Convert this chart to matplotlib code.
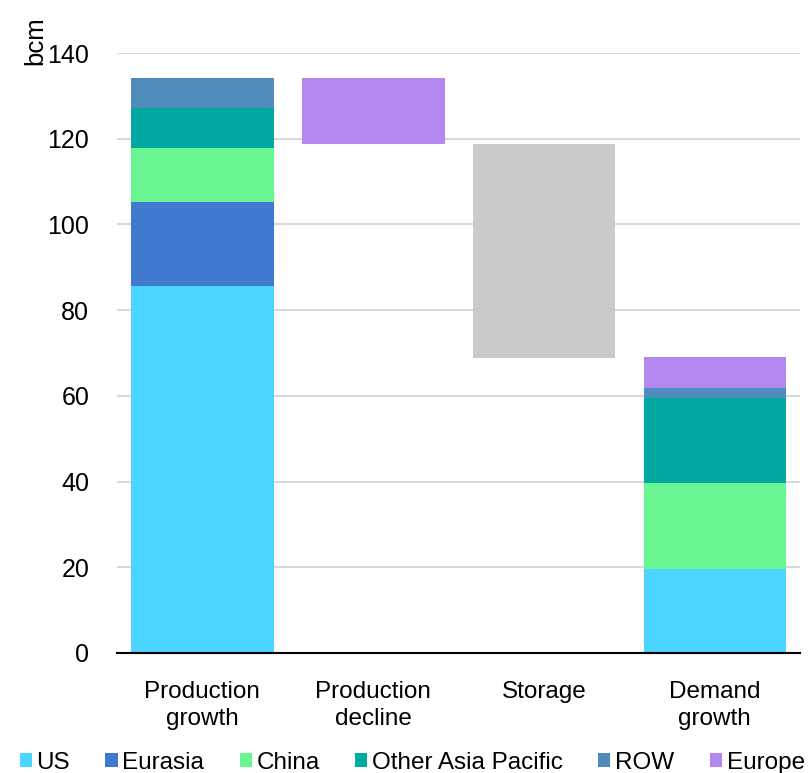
import matplotlib
matplotlib.use("Agg")
import matplotlib.pyplot as plt
import numpy as np

plt.rcParams['font.family'] = ['Liberation Sans', 'DejaVu Sans']

categories = ["Production\ngrowth", "Production\ndecline", "Storage", "Demand\ngrowth"]
regions = ["US", "Eurasia", "China", "Other Asia Pacific", "ROW", "Europe"]
colors = ["#4BD4FF", "#4178D0", "#69F592", "#00AAA0", "#4F8BBB", "#B388F0"]

# bcm, by region
prod_growth = [85.6, 19.7, 12.6, 9.2, 7.0, 0.0]
prod_decline = [0.0, 0.0, 0.0, 0.0, 0.0, 15.4]
demand_growth = [19.7, 0.0, 20.0, 19.9, 2.3, 7.2]
storage = 49.9
storage_color = "#CACACA"

total_growth = sum(prod_growth)
decline_base = total_growth - sum(prod_decline)
storage_base = decline_base - storage

fig = plt.figure(figsize=(8.1, 7.73), dpi=100)
ax = fig.add_axes([0.1444, 0.1553, 0.8436, 0.7761])

x = np.arange(len(categories))
w = 0.835

bottoms = [0.0, decline_base, 0.0, 0.0]
for i, reg in enumerate(regions):
    vals = [prod_growth[i], prod_decline[i], 0.0, demand_growth[i]]
    ax.bar(x, vals, w, bottom=bottoms, color=colors[i], label=reg, zorder=3)
    bottoms = [b + v for b, v in zip(bottoms, vals)]

ax.bar(x[2], storage, w, bottom=storage_base, color=storage_color, zorder=3)

ax.set_ylim(0, 140)
ax.set_xlim(-0.5, 3.5)
ax.set_yticks(np.arange(0, 141, 20))
ax.set_xticks(x)
ax.set_xticklabels(categories, fontsize=17.5, linespacing=1.3)
ax.tick_params(axis='y', length=0, pad=20, labelsize=18)
ax.tick_params(axis='x', length=0, pad=20)
ax.grid(axis='y', color='#D9D9D9', lw=1.5, zorder=0)
for s in ['top', 'right', 'left']:
    ax.spines[s].set_visible(False)
ax.spines['bottom'].set_color('black')
ax.spines['bottom'].set_linewidth(1.5)
ax.spines['bottom'].set_zorder(4)

fig.text(0.043, 0.947, "bcm", rotation=90, fontsize=18.5, ha='center', va='center')

ax.legend(loc='center', bbox_to_anchor=(0.432, -0.183), ncol=6, frameon=False,
          fontsize=17.5, handlelength=0.5, handleheight=0.5, handletextpad=0.2,
          columnspacing=1.45, borderaxespad=0, borderpad=0)

fig.savefig("out.png", dpi=100)
